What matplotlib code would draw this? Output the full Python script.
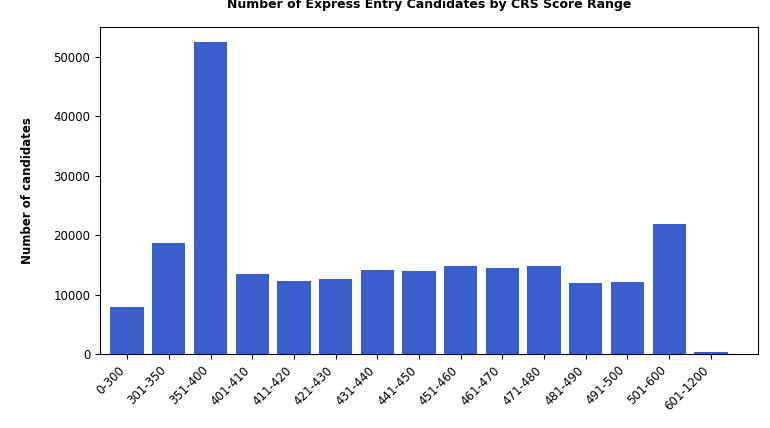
import matplotlib
matplotlib.use("Agg")
import matplotlib.pyplot as plt

categories = ["0-300","301-350","351-400","401-410","411-420","421-430","431-440","441-450",
              "451-460","461-470","471-480","481-490","491-500","501-600","601-1200"]
values = [7950, 18750, 52550, 13500, 12330, 12680, 14190, 14020, 14860, 14530, 14860, 11990, 12160, 21790, 340]

fig = plt.figure(figsize=(7.7, 4.28), dpi=100)
ax = fig.add_axes([100/770, 1-354/428, 658/770, 327/428])
ax.bar(categories, values, color="#3A5FCD", width=0.8)
ax.set_ylim(0, 55000)
ax.set_xlim(-0.65, 15.13)
ax.set_title("Number of Express Entry Candidates by CRS Score Range", fontweight="bold", fontsize=9, pad=14)
ax.set_xlabel("CRS score range", fontweight="bold", fontsize=8.5, labelpad=30)
ax.set_ylabel("Number of candidates", fontweight="bold", fontsize=8.5, labelpad=14)
plt.setp(ax.get_xticklabels(), rotation=45, ha="right", fontsize=8.5)
ax.tick_params(axis="y", labelsize=8.5)
fig.savefig("out.png", dpi=100)
